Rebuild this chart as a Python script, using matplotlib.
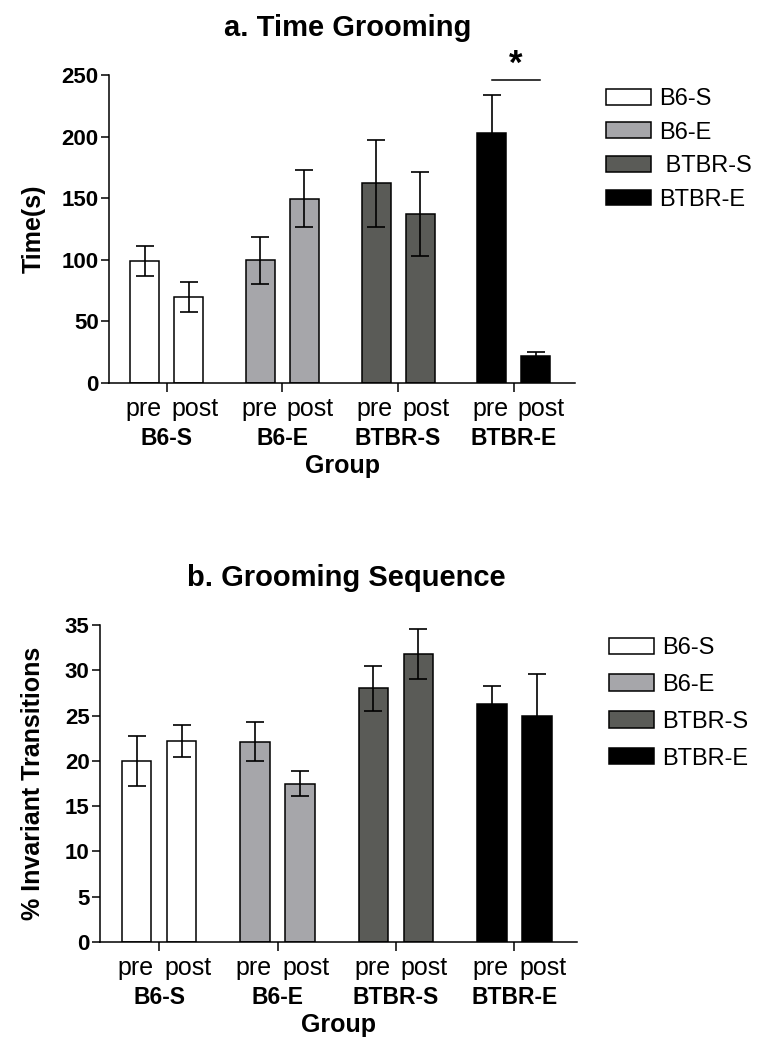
import matplotlib
matplotlib.use('Agg')
import matplotlib.pyplot as plt
import numpy as np

plt.rcParams['font.family'] = ['Liberation Sans', 'DejaVu Sans']

# groups and conditions
groups = ['B6-S', 'B6-E', 'BTBR-S', 'BTBR-E']
legend_top = ['B6-S', 'B6-E', ' BTBR-S', 'BTBR-E']
conditions = ['pre', 'post']
colors = ['#ffffff', '#a6a6aa', '#5a5b57', '#000000']

# a. time grooming (s): mean and sem, pre / post
time_pre = [99, 99.5, 162, 203]
time_post = [70, 149.5, 137, 21.6]
time_pre_err = [12, 19, 35, 30.5]
time_post_err = [12, 23, 34, 3.6]

# b. grooming sequence (% invariant transitions)
seq_pre = [20.0, 22.1, 28.0, 26.3]
seq_post = [22.2, 17.5, 31.8, 24.9]
seq_pre_err = [2.75, 2.15, 2.5, 2.0]
seq_post_err = [1.8, 1.4, 2.75, 4.7]

W, H = 769, 1048
fig = plt.figure(figsize=(W / 100, H / 100), dpi=100)

def px_axes(left, top, right, bottom):
    return fig.add_axes([left / W, 1 - bottom / H, (right - left) / W, (bottom - top) / H])

def draw_panel(ax, pre, post, pre_err, post_err, ymax, ystep, ylabel, ylab_x):
    x = np.arange(len(groups))
    off, bw = 0.19, 0.25
    bars = []
    for xi, vals, errs in [(x - off, pre, pre_err), (x + off, post, post_err)]:
        b = ax.bar(xi, vals, bw, color=colors, edgecolor='#000000', linewidth=1.1, zorder=2)
        ax.errorbar(xi, vals, yerr=errs, fmt='none', ecolor='#000000', elinewidth=1.2,
                    capsize=6.5, capthick=1.2, zorder=3)
        bars.append(b)

    ax.set_xlim(-0.5, 3.53)
    ax.set_ylim(0, ymax)
    ax.set_yticks(np.arange(0, ymax + 1, ystep))
    ax.spines['top'].set_visible(False)
    ax.spines['right'].set_visible(False)
    for s in ['left', 'bottom']:
        ax.spines[s].set_linewidth(1.1)

    ax.tick_params(axis='y', length=6, width=1.1, pad=1.5, labelsize=16)
    for t in ax.get_yticklabels():
        t.set_fontweight('bold')

    # group ticks (major) and pre/post labels (minor, no tick marks)
    ax.set_xticks(x)
    ax.set_xticklabels(groups, fontsize=16.5, fontweight='bold')
    ax.set_xticks(np.concatenate([x - 0.2, x + 0.24]), minor=True)
    ax.set_xticklabels([conditions[0]] * 4 + [conditions[1]] * 4, minor=True, fontsize=18)
    ax.tick_params(axis='x', which='major', length=6.5, width=1.1, pad=25)
    ax.tick_params(axis='x', which='minor', length=0, pad=10)

    ax.set_xlabel('Group', fontsize=18, fontweight='bold', labelpad=3)
    ax.set_ylabel(ylabel, fontsize=18, fontweight='bold')
    ax.yaxis.set_label_coords(ylab_x, 0.5)

    return [bars[0][i] for i in range(len(groups))]

# panel a
ax1 = px_axes(109, 75, 575, 383)
h1 = draw_panel(ax1, time_pre, time_post, time_pre_err, time_post_err,
                250, 50, 'Time(s)', -0.135)
fig.text(348 / W, 1 - 28 / H, 'a. Time Grooming', ha='center', va='center',
         fontsize=21, fontweight='bold')

# significance bar between BTBR-E pre and post
ax1.plot([3 - 0.19, 3 + 0.23], [246, 246], color='#000000', linewidth=1.1, clip_on=False)
ax1.text(3 + 0.02, 245, '*', ha='center', va='bottom', fontsize=25, fontweight='bold')

fig.legend(h1, legend_top, loc='upper left', bbox_to_anchor=(606 / W, 1 - 88 / H),
           frameon=False, fontsize=17, handlelength=1.9, handleheight=0.64,
           handletextpad=0.35, labelspacing=0.49, borderpad=0, borderaxespad=0)

# panel b
ax2 = px_axes(100, 625, 577, 942)
h2 = draw_panel(ax2, seq_pre, seq_post, seq_pre_err, seq_post_err,
                35, 5, '% Invariant Transitions', -0.115)
fig.text(346 / W, 1 - 578 / H, 'b. Grooming Sequence', ha='center', va='center',
         fontsize=21, fontweight='bold')

fig.legend(h2, groups, loc='upper left', bbox_to_anchor=(609 / W, 1 - 637 / H),
           frameon=False, fontsize=17, handlelength=1.9, handleheight=0.68,
           handletextpad=0.35, labelspacing=0.63, borderpad=0, borderaxespad=0)

fig.savefig('out.png', dpi=100, facecolor='white')
